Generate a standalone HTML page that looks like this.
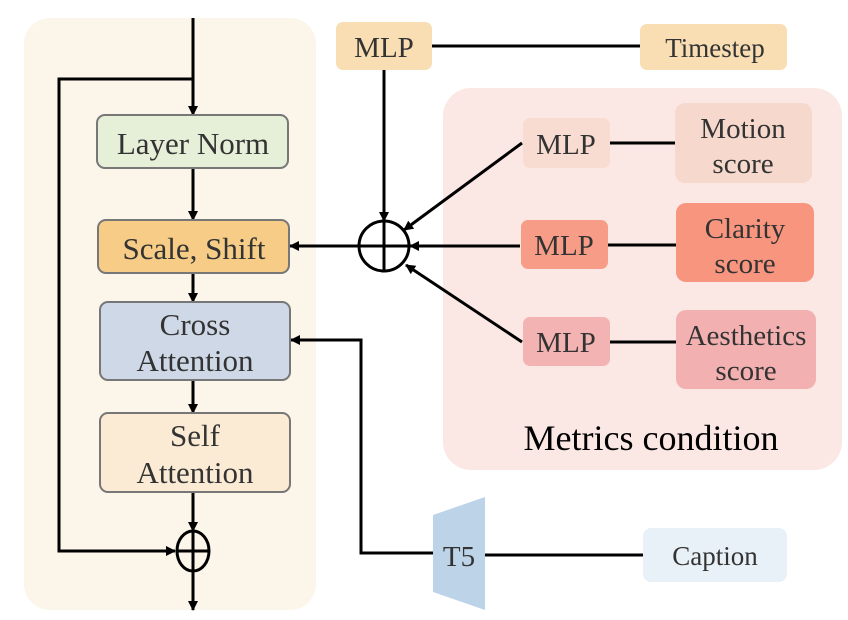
<!DOCTYPE html>
<html><head><style>
html,body{margin:0;padding:0;background:#fff;}
svg{display:block;}
text{font-family:"Liberation Serif",serif;fill:#333;}
</style></head><body>
<svg width="848" height="620" viewBox="0 0 848 620" xmlns="http://www.w3.org/2000/svg">
<defs>
<marker id="a" markerWidth="10" markerHeight="10" refX="9" refY="5" orient="auto" markerUnits="userSpaceOnUse">
<path d="M0,0 L10,5 L0,10 z" fill="#000"/>
</marker>
</defs>
<rect x="24" y="18" width="292" height="592" rx="26" fill="#fcf5ea"/>
<rect x="443" y="88" width="399" height="382" rx="28" fill="#fbe8e4"/>

<g stroke="#000" stroke-width="3" fill="none">
<line x1="193" y1="18" x2="193" y2="115" marker-end="url(#a)"/>
<polyline points="193,79 59,79 59,551 175,551" marker-end="url(#a)"/>
<line x1="193" y1="168" x2="193" y2="220" marker-end="url(#a)"/>
<line x1="193" y1="273" x2="193" y2="302" marker-end="url(#a)"/>
<line x1="193" y1="380" x2="193" y2="413" marker-end="url(#a)"/>
<line x1="193" y1="492" x2="193" y2="531" marker-end="url(#a)"/>
<line x1="193" y1="571" x2="193" y2="610" marker-end="url(#a)"/>
<ellipse cx="193" cy="551" rx="16" ry="20"/>
<line x1="177" y1="551" x2="209" y2="551"/>
<line x1="193" y1="531" x2="193" y2="571"/>

<line x1="432" y1="46" x2="640" y2="46"/>
<line x1="384" y1="70" x2="384" y2="221" marker-end="url(#a)"/>
<circle cx="384" cy="246" r="25"/>
<line x1="359" y1="246" x2="409" y2="246"/>
<line x1="384" y1="221" x2="384" y2="271"/>
<line x1="359" y1="246" x2="290" y2="246" marker-end="url(#a)"/>
<line x1="522" y1="143" x2="404" y2="230" marker-end="url(#a)"/>
<line x1="520" y1="246" x2="410" y2="246" marker-end="url(#a)"/>
<line x1="522" y1="342" x2="406" y2="265" marker-end="url(#a)"/>
<line x1="610" y1="143" x2="675" y2="143"/>
<line x1="608" y1="245" x2="676" y2="245"/>
<line x1="610" y1="342" x2="676" y2="342"/>

<line x1="485" y1="555" x2="643" y2="555"/>
<polyline points="433,553 361,553 361,340 291,340" marker-end="url(#a)"/>
</g>

<g stroke="#777" stroke-width="2">
<rect x="97" y="115" width="191" height="53" rx="8" fill="#e6efd7"/>
<rect x="98" y="220" width="191" height="53" rx="8" fill="#f6cc86"/>
<rect x="100" y="302" width="190" height="78" rx="8" fill="#cfd8e6"/>
<rect x="100" y="413" width="190" height="79" rx="8" fill="#fbebd4"/>
</g>
<g font-size="31" text-anchor="middle">
<text x="193" y="154">Layer Norm</text>
<text x="194" y="259">Scale, Shift</text>
<text x="195" y="335">Cross</text>
<text x="195" y="371">Attention</text>
<text x="195" y="446">Self</text>
<text x="195" y="483">Attention</text>
</g>

<rect x="336" y="22" width="96" height="48" rx="7" fill="#f8deb2"/>
<rect x="640" y="24" width="147" height="46" rx="7" fill="#f8deb2"/>
<rect x="523" y="118" width="87" height="50" rx="7" fill="#f8dcd2"/>
<rect x="675" y="103" width="137" height="80" rx="10" fill="#f6d8cc"/>
<rect x="521" y="220" width="87" height="49" rx="7" fill="#f79d87"/>
<rect x="676" y="203" width="138" height="79" rx="10" fill="#f8957f"/>
<rect x="523" y="317" width="87" height="49" rx="7" fill="#f3b3b2"/>
<rect x="676" y="310" width="140" height="79" rx="10" fill="#f3b0b0"/>
<polygon points="433,515 485,497 485,610 433,592" fill="#bcd3e8"/>
<rect x="643" y="528" width="144" height="54" rx="8" fill="#e9f1f8"/>

<g font-size="29" text-anchor="middle">
<text x="384" y="57">MLP</text>
<text x="715" y="57" font-size="27">Timestep</text>
<text x="566" y="154">MLP</text>
<text x="743" y="138">Motion</text>
<text x="743" y="173">score</text>
<text x="564" y="255">MLP</text>
<text x="745" y="238">Clarity</text>
<text x="745" y="273">score</text>
<text x="566" y="352">MLP</text>
<text x="746" y="345">Aesthetics</text>
<text x="746" y="380">score</text>
<text x="459" y="566">T5</text>
<text x="715" y="565" font-size="27">Caption</text>
<text x="651" y="450" font-size="36" style="fill:#000">Metrics condition</text>
</g>
</svg>
</body></html>
